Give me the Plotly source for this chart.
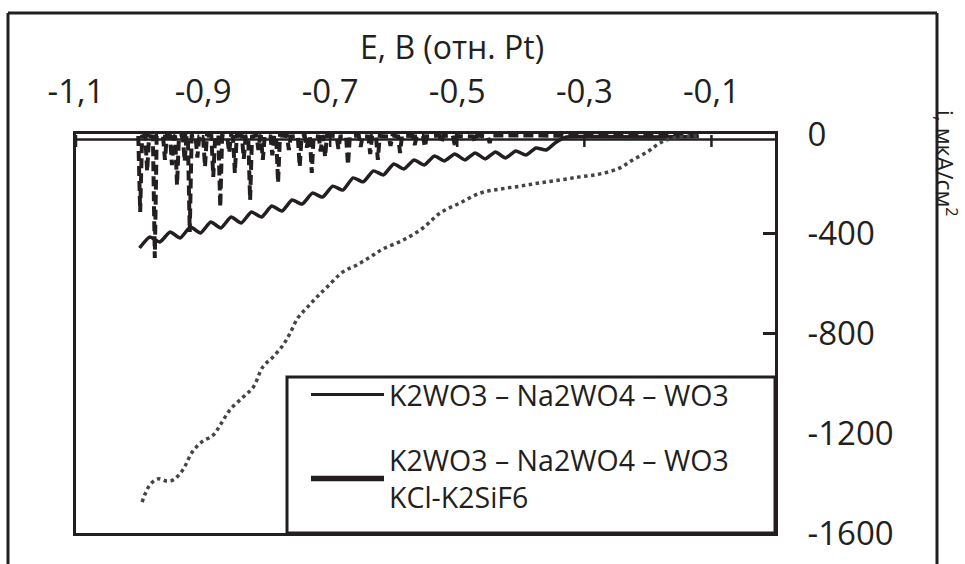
import plotly.graph_objects as go

# ---------------- data ----------------
x_tickvals = [-1.1, -0.9, -0.7, -0.5, -0.3, -0.1]
x_ticktext = ["-1,1", "-0,9", "-0,7", "-0,5", "-0,3", "-0,1"]
y_tickvals = [0, -400, -800, -1200, -1600]
y_ticktext = ["0", "-400", "-800", "-1200", "-1600"]

# solid wavy curve
solid_x = [-1.000, -0.984, -0.968, -0.952, -0.936, -0.920, -0.904, -0.888, -0.872, -0.856,
           -0.840, -0.824, -0.808, -0.792, -0.776, -0.760, -0.744, -0.728, -0.712, -0.696,
           -0.680, -0.664, -0.648, -0.632, -0.616, -0.600, -0.584, -0.568, -0.552, -0.536,
           -0.520, -0.504, -0.488, -0.472, -0.456, -0.440, -0.424, -0.408, -0.392, -0.376,
           -0.360, -0.344, -0.328, -0.300, -0.200, -0.120]
solid_y = [-457, -413, -433, -393, -417, -373, -397, -353, -377, -333,
           -357, -313, -333, -289, -309, -265, -281, -237, -253, -209,
           -225, -176, -192, -148, -164, -120, -140, -104, -124, -88,
           -108, -80, -104, -76, -100, -72, -96, -68, -84, -56,
           -64, -32, -12, -10, -12, -10]

# noisy (dashed) curve
jag_x = [-1.002, -0.999, -0.996, -0.991, -0.988, -0.985, -0.979, -0.976, -0.973,
         -0.963, -0.960, -0.957, -0.952, -0.949, -0.946, -0.944, -0.941, -0.938,
         -0.932, -0.929, -0.926, -0.924, -0.921, -0.918, -0.912, -0.909, -0.906,
         -0.900, -0.897, -0.894, -0.887, -0.884, -0.881, -0.876, -0.873, -0.870,
         -0.862, -0.859, -0.856, -0.853, -0.850, -0.847, -0.839, -0.836, -0.833,
         -0.829, -0.826, -0.823, -0.816, -0.813, -0.810, -0.809, -0.806, -0.803,
         -0.794, -0.791, -0.788, -0.785, -0.782, -0.779, -0.768, -0.765, -0.762,
         -0.751, -0.748, -0.745, -0.740, -0.737, -0.734, -0.732, -0.729, -0.726,
         -0.718, -0.715, -0.712, -0.711, -0.708, -0.705, -0.690, -0.687, -0.684,
         -0.675, -0.672, -0.669, -0.655, -0.652, -0.649, -0.640, -0.637, -0.634,
         -0.628, -0.625, -0.622, -0.608, -0.605, -0.602, -0.593, -0.590, -0.587,
         -0.570, -0.567, -0.564, -0.554, -0.551, -0.548, -0.528, -0.525, -0.522,
         -0.507, -0.504, -0.501, -0.475, -0.472, -0.469, -0.452, -0.449, -0.446,
         -0.300, -0.120]
jag_y = [-8, -313, -10, -6, -150, -8, -10, -497, -8,
         -10, -104, -6, -8, -125, -10, -6, -205, -10,
         -6, -110, -8, -10, -393, -8, -6, -95, -10,
         -10, -132, -6, -8, -172, -10, -6, -293, -8,
         -10, -75, -6, -10, -156, -6, -8, -100, -10,
         -8, -265, -10, -6, -64, -8, -6, -104, -8,
         -10, -85, -6, -10, -196, -6, -8, -64, -10,
         -8, -132, -10, -6, -55, -8, -6, -156, -8,
         -10, -70, -6, -10, -92, -6, -8, -60, -10,
         -8, -124, -10, -6, -52, -8, -10, -80, -6,
         -6, -104, -8, -10, -48, -6, -10, -76, -6,
         -8, -44, -10, -8, -52, -10, -6, -36, -8,
         -6, -44, -8, -10, -32, -6, -10, -36, -6,
         -8, -8]

# dotted curve
dot_x = [-0.996, -0.984, -0.971, -0.958, -0.947, -0.932, -0.917, -0.902, -0.884, -0.873,
         -0.858, -0.837, -0.821, -0.806, -0.790, -0.774, -0.763, -0.751, -0.737, -0.721,
         -0.705, -0.680, -0.658, -0.637, -0.617, -0.585, -0.554, -0.527, -0.496, -0.464,
         -0.433, -0.401, -0.370, -0.338, -0.307, -0.275, -0.244, -0.224, -0.201, -0.181,
         -0.160, -0.123]
dot_y = [-1476, -1408, -1383, -1391, -1387, -1347, -1275, -1235, -1207, -1167,
         -1107, -1055, -1015, -934, -894, -846, -798, -738, -698, -654,
         -614, -553, -525, -493, -461, -425, -377, -317, -277, -237,
         -221, -209, -196, -184, -172, -160, -136, -104, -72, -36,
         -16, -8]

legend_names = ["K2WO3 – Na2WO4 – WO3", "K2WO3 – Na2WO4 – WO3<br>KCl-K2SiF6"]

INK = "#231f20"
FONT = "Open Sans"

fig = go.Figure()
fig.add_trace(go.Scatter(x=jag_x, y=jag_y, mode="lines", showlegend=False,
                         line=dict(color=INK, width=4, dash="10px,5px")))
fig.add_trace(go.Scatter(x=solid_x, y=solid_y, mode="lines", showlegend=False,
                         line=dict(color=INK, width=3.5, shape="spline", smoothing=0.5)))
fig.add_trace(go.Scatter(x=dot_x, y=dot_y, mode="lines", showlegend=False,
                         line=dict(color="#444444", width=3.5, dash="dot", shape="spline")))
# legend entries
fig.add_trace(go.Scatter(x=[None], y=[None], mode="lines", name=legend_names[0],
                         line=dict(color=INK, width=3), legend="legend"))
fig.add_trace(go.Scatter(x=[None], y=[None], mode="lines", name=legend_names[1],
                         line=dict(color=INK, width=5.5), legend="legend2"))

L, R, T, B = 76, 190, 134, 31
W, H = 965, 564
pw, ph = W - L - R, H - T - B

def px_x(p):
    return (p - L) / pw

def px_y(p):
    return (H - B - p) / ph

shapes = []
# outer frame (left, top, right)
for x0, y0, x1, y1 in [(8, 13, 8, 580), (8, 13, 937, 13), (937, 13, 937, 580)]:
    shapes.append(dict(type="line", xref="paper", yref="paper",
                       x0=px_x(x0), y0=px_y(y0), x1=px_x(x1), y1=px_y(y1),
                       line=dict(color=INK, width=3)))
# horizontal axis line and its crossing ticks
shapes.append(dict(type="line", xref="x", yref="y", x0=-1.1, x1=0, y0=-22, y1=-22,
                   line=dict(color=INK, width=2.5), layer="below"))
for tv in x_tickvals:
    shapes.append(dict(type="line", xref="x", yref="y", x0=tv, x1=tv, y0=-4, y1=-52,
                       line=dict(color=INK, width=2.5), layer="below"))
# legend box
shapes.append(dict(type="rect", xref="paper", yref="paper",
                   x0=px_x(287), x1=1.0, y0=0, y1=px_y(377),
                   line=dict(color=INK, width=3), fillcolor="white", layer="above"))

annotations = [
    dict(text="E, B (отн. Pt)", xref="paper", yref="paper", x=px_x(452), y=px_y(46),
         showarrow=False, font=dict(family=FONT, size=32, color=INK),
         xanchor="center", yanchor="middle"),
    dict(text="i, мкА/см<sup>2</sup>", xref="paper", yref="paper", x=px_x(946), y=px_y(163),
         showarrow=False, textangle=90, font=dict(family=FONT, size=23, color=INK),
         xanchor="center", yanchor="middle"),
]

fig.update_layout(
    width=W, height=H,
    margin=dict(l=L, r=R, t=T, b=B, pad=0),
    paper_bgcolor="white", plot_bgcolor="white",
    template="none",
    font=dict(family=FONT, color=INK),
    shapes=shapes, annotations=annotations,
    xaxis=dict(range=[-1.1, 0], side="top", tickvals=x_tickvals, ticktext=x_ticktext,
               showline=True, mirror=True, linecolor=INK, linewidth=3,
               showgrid=False, zeroline=False, ticks="", automargin=False,
               tickfont=dict(family=FONT, size=33, color=INK), ticklabelstandoff=15),
    yaxis=dict(range=[-1600, 0], side="right", tickvals=y_tickvals, ticktext=y_ticktext,
               showline=True, mirror=True, linecolor=INK, linewidth=3,
               showgrid=False, zeroline=False, ticks="inside", ticklen=12, tickwidth=3,
               tickcolor=INK, automargin=False,
               tickfont=dict(family=FONT, size=33, color=INK), ticklabelstandoff=23),
    legend=dict(x=px_x(306), y=px_y(395), xanchor="left", yanchor="middle",
                bgcolor="rgba(0,0,0,0)", borderwidth=0, itemwidth=73,
                font=dict(family=FONT, size=28.5, color=INK)),
    legend2=dict(x=px_x(306), y=px_y(479), xanchor="left", yanchor="middle",
                 bgcolor="rgba(0,0,0,0)", borderwidth=0, itemwidth=73,
                 font=dict(family=FONT, size=28.5, color=INK)),
)

fig.write_html("out.html", config={"displayModeBar": False},
               post_script="document.body.style.margin='0px';")
